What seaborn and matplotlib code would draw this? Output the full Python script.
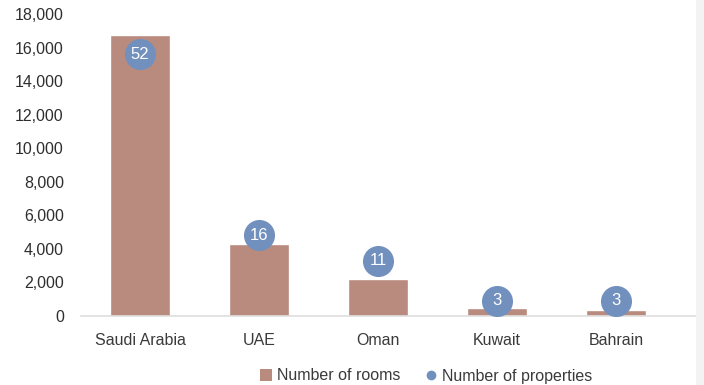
import matplotlib
matplotlib.use("Agg")
import matplotlib.pyplot as plt
from matplotlib.lines import Line2D
from matplotlib.patches import Rectangle
import seaborn as sns
import pandas as pd

countries = ["Saudi Arabia", "UAE", "Oman", "Kuwait", "Bahrain"]
rooms = [16750, 4290, 2200, 460, 375]
properties = [52, 16, 11, 3, 3]
y_ticks = [0, 2000, 4000, 6000, 8000, 10000, 12000, 14000, 16000, 18000]

bar_color = "#B98A7E"
dot_color = "#7290BD"
text_color = "#3a3a3a"

sns.set_theme(style="white")
plt.rcParams["font.family"] = ["Liberation Sans", "DejaVu Sans"]

df = pd.DataFrame({"country": countries, "rooms": rooms, "properties": properties})

fig = plt.figure(figsize=(7.04, 3.85), dpi=100)
ax = fig.add_axes([80.5 / 704, 1 - 316 / 385, (696 - 80.5) / 704, (316 - 14) / 385])

sns.barplot(data=df, x="country", y="rooms", color=bar_color, width=0.5,
            saturation=1, ax=ax)
ax.set_xlim(-0.5, -0.5 + (696 - 80.5) / 119)
ax.set_ylim(0, 18000)
ax.set_yticks(y_ticks)
ax.set_yticklabels([f"{v:,}" for v in y_ticks], fontsize=11.5, color="#2e2e2e")
ax.tick_params(axis="x", labelsize=11.5, labelcolor=text_color, length=0, pad=12)
ax.tick_params(axis="y", length=0, pad=12)
ax.set_xlabel("")
ax.set_ylabel("")
for side in ("top", "right", "left"):
    ax.spines[side].set_visible(False)
ax.spines["bottom"].set_color("#dedede")
ax.spines["bottom"].set_linewidth(1.2)

ax2 = ax.twinx()
sns.scatterplot(data=df, x="country", y="properties", color=dot_color, s=500,
                linewidth=0, ax=ax2, zorder=5)
ax2.set_ylim(0, 60)
ax2.set_xlim(ax.get_xlim())
ax2.axis("off")
for i, v in enumerate(properties):
    ax2.text(i, v, str(v), ha="center", va="center", color="white",
             fontsize=12, zorder=6)

handles = [
    Line2D([], [], marker="s", linestyle="", markersize=8.5,
           markerfacecolor=bar_color, markeredgewidth=0),
    Line2D([], [], marker="o", linestyle="", markersize=7,
           markerfacecolor=dot_color, markeredgewidth=0),
]
fig.legend(handles, ["Number of rooms", "Number of properties"],
           loc="center", bbox_to_anchor=(425 / 704, 1 - 376 / 385), ncol=2,
           frameon=False, fontsize=11.5, labelcolor=text_color,
           handletextpad=0.2, columnspacing=1.4, handlelength=1.0)

fig.patches.append(Rectangle((696 / 704, 0), 8 / 704, 1, transform=fig.transFigure,
                             facecolor="#f3f3f3", edgecolor="none", zorder=10))

fig.savefig("out.png", dpi=100)
